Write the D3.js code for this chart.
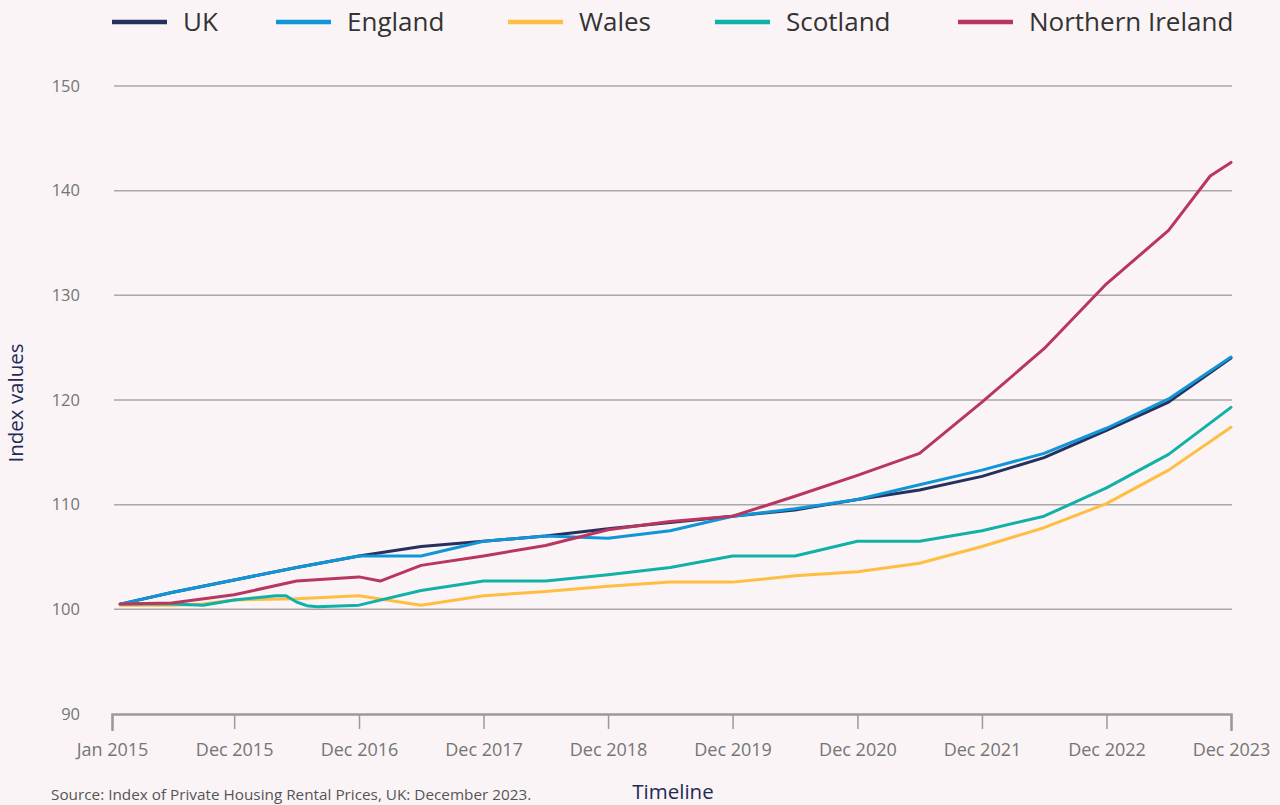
<!DOCTYPE html>
<html>
<head>
<meta charset="utf-8">
<script src="https://cdn.jsdelivr.net/npm/d3@7"></script>
<style>
  html, body { margin: 0; padding: 0; background: #faf4f6; }
  svg { display: block; font-family: "Open Sans", "Noto Sans", sans-serif; }
</style>
</head>
<body>
<svg id="chart" width="1280" height="805"></svg>
<script>
// ---------- DATA ----------
const seriesNames = ["UK", "England", "Wales", "Scotland", "Northern Ireland"];
const seriesColors = ["#26305e", "#0f95d8", "#fdbe41", "#12b1a7", "#b8365f"];

const halfYearDates = ["2015-01","2015-06","2015-12","2016-06","2016-12","2017-06","2017-12","2018-06","2018-12","2019-06","2019-12","2020-06","2020-12","2021-06","2021-12","2022-06","2022-12","2023-06","2023-12"];

const ukValues = [100.5,101.6,102.8,104.0,105.1,106.0,106.5,107.0,107.7,108.3,108.9,109.5,110.5,111.4,112.7,114.5,117.1,119.8,124.0];
const englandValues = [100.5,101.6,102.8,104.0,105.1,105.1,106.5,107.0,106.8,107.5,108.9,109.6,110.5,111.9,113.3,114.9,117.3,120.1,124.1];

const walesDates = ["2015-01","2015-06","2015-09","2015-12","2016-06","2016-12","2017-06","2017-12","2018-06","2018-12","2019-06","2019-12","2020-06","2020-12","2021-06","2021-12","2022-06","2022-12","2023-06","2023-12"];
const walesValues = [100.4,100.4,100.5,100.9,101.0,101.3,100.4,101.3,101.7,102.2,102.6,102.6,103.2,103.6,104.4,106.0,107.8,110.1,113.3,117.4];

const scotlandDates = ["2015-01","2015-06","2015-09","2015-12","2016-04","2016-05","2016-06","2016-07","2016-08","2016-12","2017-06","2017-12","2018-06","2018-12","2019-06","2019-12","2020-06","2020-12","2021-06","2021-12","2022-06","2022-12","2023-06","2023-12"];
const scotlandValues = [100.5,100.5,100.4,100.9,101.3,101.3,100.7,100.35,100.25,100.4,101.8,102.7,102.7,103.3,104.0,105.1,105.1,106.5,106.5,107.5,108.9,111.6,114.8,119.3];

const niDates = ["2015-01","2015-06","2015-12","2016-06","2016-12","2017-02","2017-06","2017-12","2018-06","2018-12","2019-06","2019-12","2020-06","2020-12","2021-06","2021-12","2022-06","2022-12","2023-06","2023-10","2023-12"];
const niValues = [100.5,100.6,101.4,102.7,103.1,102.7,104.2,105.1,106.1,107.6,108.4,108.9,110.8,112.8,114.9,119.8,124.9,131.1,136.2,141.4,142.7];

const yTicks = [90,100,110,120,130,140,150];
const xTickDates = ["2014-12-08","2015-12","2016-12","2017-12","2018-12","2019-12","2020-12","2021-12","2022-12","2023-12"];
const xTickLabels = ["Jan 2015","Dec 2015","Dec 2016","Dec 2017","Dec 2018","Dec 2019","Dec 2020","Dec 2021","Dec 2022","Dec 2023"];

const yAxisTitle = "Index values";
const xAxisTitle = "Timeline";
const sourceText = "Source: Index of Private Housing Rental Prices, UK: December 2023.";

// ---------- BUILD ----------
const parse = s => s.length === 7 ? d3.timeParse("%Y-%m")(s) : d3.timeParse("%Y-%m-%d")(s);
const zip = (ds, vs) => ds.map((d, i) => ({date: parse(d), value: vs[i]}));
const series = [
  zip(halfYearDates, ukValues),
  zip(halfYearDates, englandValues),
  zip(walesDates, walesValues),
  zip(scotlandDates, scotlandValues),
  zip(niDates, niValues)
];

const svg = d3.select("#chart");
const plotLeft = 112, plotRight = 1231, plotTop = 86, plotBottom = 714;

const x = d3.scaleTime()
  .domain([parse(xTickDates[0]), parse(xTickDates[xTickDates.length - 1])])
  .range([plotLeft, plotRight]);
const y = d3.scaleLinear().domain([90, 150]).range([plotBottom, plotTop]);

// gridlines
svg.append("g")
  .selectAll("line")
  .data(yTicks.filter(t => t > 90))
  .join("line")
  .attr("x1", plotLeft + 2).attr("x2", plotRight + 1)
  .attr("y1", d => y(d)).attr("y2", d => y(d))
  .attr("stroke", "#a9a7a8").attr("stroke-width", 1.5);

// y labels
svg.append("g")
  .selectAll("text")
  .data(yTicks)
  .join("text")
  .attr("x", 80).attr("y", d => y(d))
  .attr("dy", "0.35em")
  .attr("text-anchor", "end")
  .attr("fill", "#757575")
  .attr("font-size", 16.5)
  .text(d => d);

// x axis
const xAxis = d3.axisBottom(x)
  .tickValues(xTickDates.map(parse))
  .tickFormat((d, i) => xTickLabels[i])
  .tickSize(15)
  .tickSizeOuter(17)
  .tickPadding(14);
const gx = svg.append("g").attr("transform", `translate(0,${plotBottom})`).call(xAxis);
gx.select(".domain").attr("stroke", "#9a9a9a").attr("stroke-width", 2.5);
gx.selectAll(".tick line").attr("stroke", "#9a9a9a").attr("stroke-width", 1.5);
gx.selectAll(".tick text").attr("fill", "#757575").attr("font-size", 18).attr("font-family", "'Open Sans', sans-serif");

// lines
const line = d3.line().x(d => x(d.date)).y(d => y(d.value));
svg.append("g")
  .selectAll("path")
  .data(series)
  .join("path")
  .attr("d", line)
  .attr("fill", "none")
  .attr("stroke", (d, i) => seriesColors[i])
  .attr("stroke-width", 3)
  .attr("stroke-linejoin", "round")
  .attr("stroke-linecap", "round");

// legend
const legendX = [112, 276, 508, 715, 958];
const lg = svg.append("g").selectAll("g").data(seriesNames).join("g")
  .attr("transform", (d, i) => `translate(${legendX[i]},22)`);
lg.append("line").attr("x1", 0).attr("x2", 55).attr("y1", 0).attr("y2", 0)
  .attr("stroke", (d, i) => seriesColors[i]).attr("stroke-width", 4.5);
lg.append("text").attr("x", 71).attr("y", 0).attr("dy", "0.35em")
  .attr("fill", "#333333").attr("font-size", 26).text(d => d);

// axis titles
svg.append("text")
  .attr("transform", "translate(23,403) rotate(-90)")
  .attr("text-anchor", "middle")
  .attr("fill", "#1f2a55").attr("font-size", 20.5)
  .text(yAxisTitle);
svg.append("text")
  .attr("x", 673).attr("y", 799)
  .attr("text-anchor", "middle")
  .attr("fill", "#1f2a55").attr("font-size", 20.5)
  .text(xAxisTitle);
svg.append("text")
  .attr("x", 51).attr("y", 800)
  .attr("fill", "#555555").attr("font-size", 15.3)
  .text(sourceText);
</script>
</body>
</html>
